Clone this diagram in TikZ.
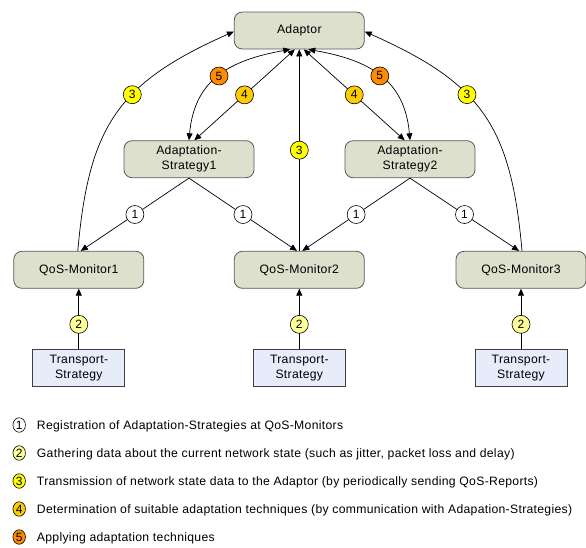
\documentclass[tikz,border=0pt]{standalone}
\usepackage{fontspec}
\setmainfont[LetterSpace=2.5]{Liberation Sans}
\usepackage{tikz}
\usetikzlibrary{arrows.meta,shapes,calc,positioning}

\definecolor{boxgreen}{RGB}{221,224,204}
\definecolor{boxblue}{RGB}{230,236,250}
\definecolor{numtwo}{RGB}{255,255,153}
\definecolor{numthree}{RGB}{255,255,0}
\definecolor{numfour}{RGB}{255,204,0}
\definecolor{numfive}{RGB}{255,140,0}

\begin{document}
\begin{tikzpicture}[x=1pt, y=1pt,
    comp/.style={draw=black!65, fill=boxgreen, rounded corners=8pt, line width=0.8pt,
                 minimum width=130pt, minimum height=37pt, inner sep=0pt, align=center,
                 font=\fontsize{12.2}{15}\selectfont},
    tstrat/.style={draw=black!75, fill=boxblue, line width=0.8pt,
                   minimum width=92pt, minimum height=37pt, inner sep=0pt, align=center,
                   font=\fontsize{12.2}{15.5}\selectfont},
    num/.style={circle, draw, line width=0.6pt, minimum size=18pt, inner sep=0pt,
                font=\fontsize{12}{14}\selectfont},
    keynum/.style={ellipse, draw, line width=0.6pt, minimum width=12.5pt, minimum height=14.5pt,
                   inner sep=0pt, font=\fontsize{12}{14}\selectfont},
    link/.style={line width=0.7pt, -{Triangle[length=7pt,width=6pt]}},
    dlink/.style={line width=0.7pt, {Triangle[length=7pt,width=6pt]}-{Triangle[length=7pt,width=6pt]}}]
  % Define dimensions
  \useasboundingbox (0,0) rectangle (586,-547);
  \def\rowA{-30.5}
  \def\rowB{-159.2}
  \def\rowC{-269.8}
  \def\rowD{-368}

  % Draw components
  \node[comp] (Adaptor) at (299.3,\rowA) {Adaptor};
  \node[comp] (AS1) at (189,\rowB) {Adaptation-\\Strategy1};
  \node[comp] (AS2) at (410,\rowB) {Adaptation-\\Strategy2};
  \node[comp] (QM1) at (78.8,\rowC) {QoS-Monitor1};
  \node[comp] (QM2) at (299.3,\rowC) {QoS-Monitor2};
  \node[comp] (QM3) at (521,\rowC) {QoS-Monitor3};
  \foreach \i/\x in {1/78.8, 2/299.3, 3/521}
      \node[tstrat] (TS\i) at (\x,\rowD) {Transport-\\Strategy};

  % Registration (1)
  \draw[link] (AS1.south) -- node[num, fill=white] {1} ([xshift=2]QM1.north);
  \draw[link] (AS1.south) -- node[num, fill=white] {1} ([xshift=-2.3]QM2.north);
  \draw[link] (AS2.south) -- node[num, fill=white] {1} ([xshift=3]QM2.north);
  \draw[link] (AS2.south) -- node[num, fill=white] {1} ([xshift=-2]QM3.north);

  % Gathering (2)
  \foreach \i in {1,2,3}
      \draw[link] (TS\i.north) -- node[num, fill=numtwo, pos=0.41] {2} (QM\i.south);

  % QoS-Reports (3)
  \draw[link] ([xshift=-1]QM1.north) to[out=85, in=204, looseness=1.2]
      node[num, fill=numthree, pos=0.6] {3} ([yshift=-1]Adaptor.west);
  \draw[link] (QM2.north) -- node[num, fill=numthree] {3} (Adaptor.south);
  \draw[link] ([xshift=1]QM3.north) to[out=95, in=-24, looseness=1.2]
      node[num, fill=numthree, pos=0.6] {3} ([yshift=-1]Adaptor.east);

  % Determination (4) and applying (5)
  \draw[dlink] ([xshift=-4.5]Adaptor.south) -- node[num, fill=numfour] {4} ([xshift=5.3]AS1.north);
  \draw[dlink] ([xshift=4.5]Adaptor.south) -- node[num, fill=numfour] {4} ([xshift=-5.3]AS2.north);
  \draw[dlink] ([xshift=-9]Adaptor.south) to[out=190, in=85, looseness=1.15]
      node[num, fill=numfive] {5} (AS1.north);
  \draw[dlink] ([xshift=9]Adaptor.south) to[out=-10, in=95, looseness=1.15]
      node[num, fill=numfive] {5} (AS2.north);

  % Legend
  \foreach \i/\col/\txt in {%
      1/white/{Registration of Adaptation-Strategies at QoS-Monitors},
      2/numtwo/{Gathering data about the current network state (such as jitter, packet loss and delay)},
      3/numthree/{Transmission of network state data to the Adaptor (by periodically sending QoS-Reports)},
      4/numfour/{Determination of suitable adaptation techniques (by communication with Adapation-Strategies)},
      5/numfive/{Applying adaptation techniques}} {%
      \node[keynum, fill=\col] (key\i) at (19.2,-425-28*\i+28) {\i};
      \node[base right=11pt of key\i, inner sep=0pt, font=\fontsize{12.2}{14}\selectfont] (keytxt\i) {\txt};
  }
\end{tikzpicture}
\end{document}
